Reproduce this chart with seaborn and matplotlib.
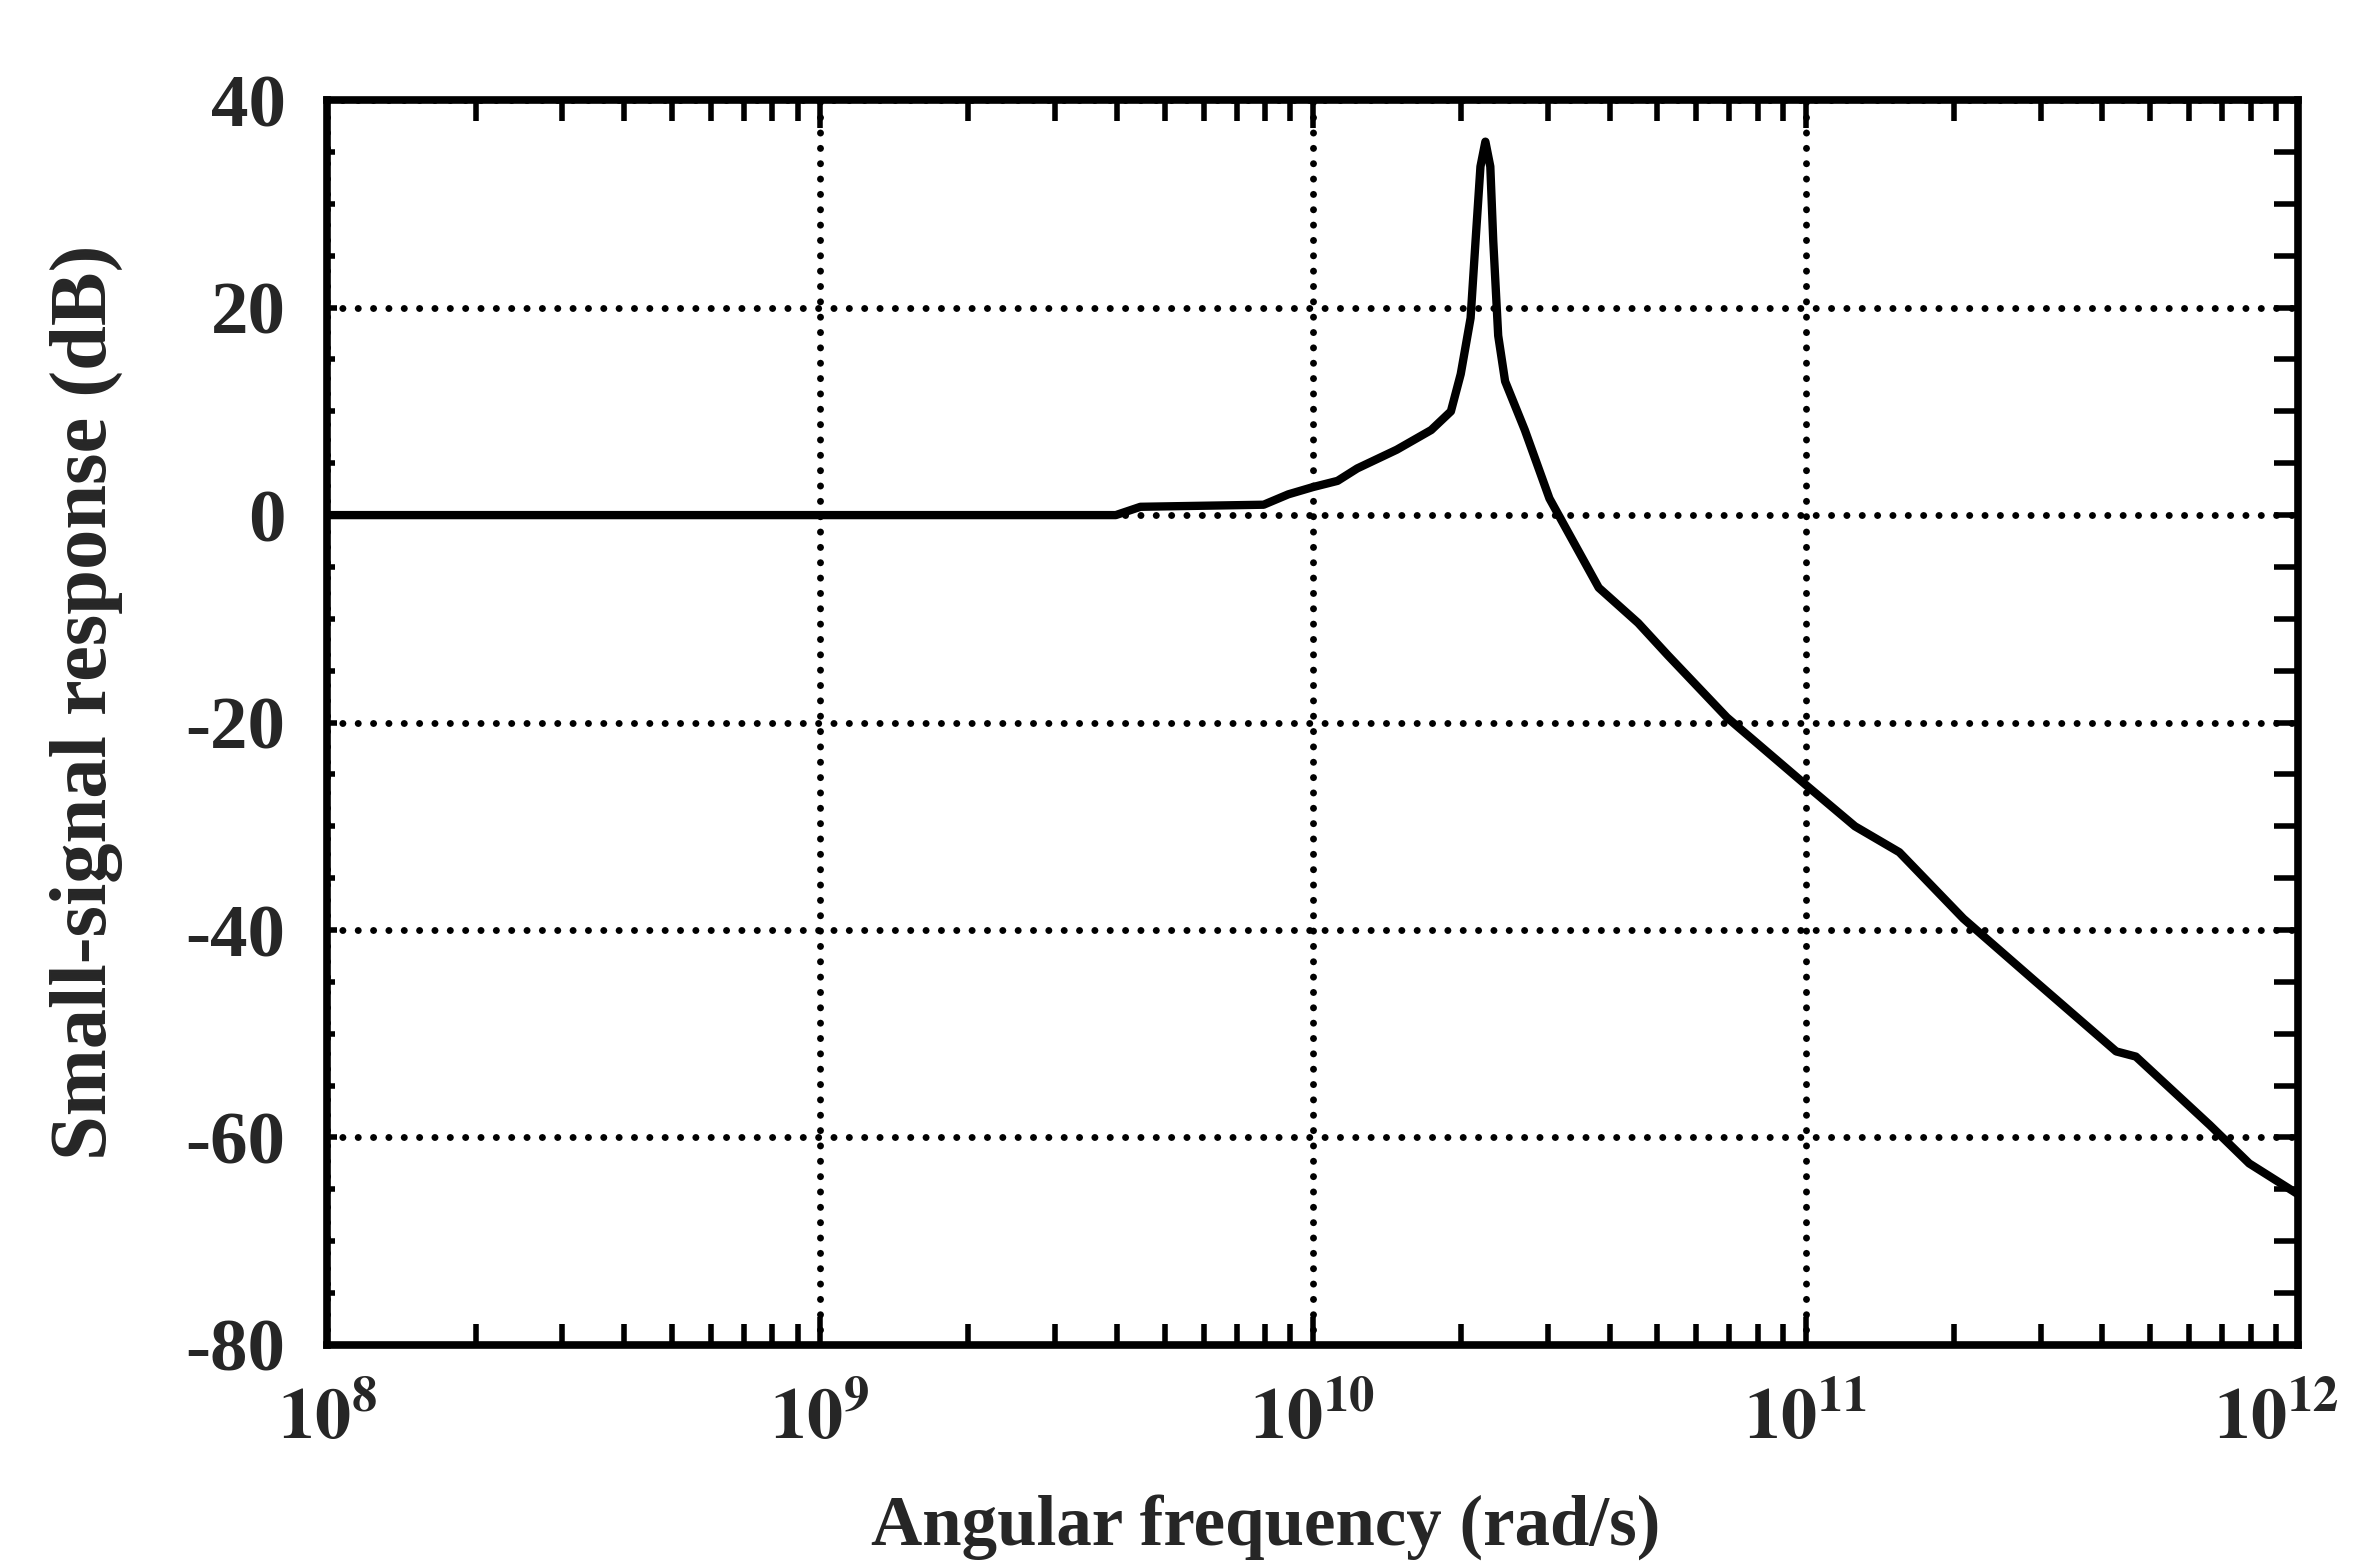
import numpy as np
import pandas as pd
import matplotlib
matplotlib.use("Agg")
import matplotlib.pyplot as plt
import matplotlib.transforms as mtransforms
import seaborn as sns
from matplotlib.ticker import FixedLocator, MultipleLocator, NullFormatter, LogLocator

# ---- data ----
freq_exponent = [8.0, 9.0, 9.6, 9.65, 9.9, 9.95, 10.0, 10.05, 10.09, 10.17, 10.24,
                 10.28, 10.30, 10.32, 10.33, 10.34, 10.35, 10.36, 10.366, 10.376,
                 10.39, 10.43, 10.48, 10.53, 10.58, 10.66, 10.72, 10.77, 10.84, 11.0,
                 11.1, 11.19, 11.32, 11.46, 11.63, 11.67, 11.82, 11.9, 11.97, 12.0]
response_db = [0.0, 0.0, 0.0, 0.8, 1.0, 2.0, 2.7, 3.3, 4.5, 6.3, 8.2,
               10.0, 13.6, 19.0, 26.4, 33.6, 36.0, 33.6, 26.4, 17.3,
               12.9, 8.2, 1.6, -2.7, -7.0, -10.4, -13.5, -16.0, -19.5, -26.0,
               -30.0, -32.5, -38.9, -44.7, -51.7, -52.2, -58.8, -62.5, -64.6, -65.5]

x_tick_exponents = [8, 9, 10, 11, 12]
x_tick_labels = [r"$10^{8}$", r"$10^{9}$", r"$10^{10}$", r"$10^{11}$", r"$10^{12}$"]
y_ticks = [-80, -60, -40, -20, 0, 20, 40]
y_tick_labels = ["-80", "-60", "-40", "-20", "0", "20", "40"]
x_label = "Angular frequency (rad/s)"
y_label = "Small-signal response (dB)"

df = pd.DataFrame({"omega": 10.0 ** np.array(freq_exponent), "db": response_db})

sns.set_style("white")
plt.rcParams["font.family"] = ["Liberation Serif", "DejaVu Serif"]
plt.rcParams["font.weight"] = "bold"
plt.rcParams["mathtext.fontset"] = "stix"
plt.rcParams["mathtext.default"] = "bf"
plt.rcParams["axes.unicode_minus"] = False

fig = plt.figure(figsize=(23.55, 15.65), dpi=100)
fig.patch.set_facecolor("white")
ax = fig.add_axes([0.139, 0.1406, 0.837, 0.7954])
ax.set_xscale("log")

sns.lineplot(data=df, x="omega", y="db", ax=ax, color="black", linewidth=6,
             solid_joinstyle="round", solid_capstyle="round")

ax.set_xlim(1e8, 1e12)
ax.set_ylim(-80, 40)

ax.xaxis.set_major_locator(FixedLocator([10.0 ** e for e in x_tick_exponents]))
ax.set_xticklabels(x_tick_labels)
ax.xaxis.set_minor_locator(LogLocator(base=10, subs=np.arange(2, 10), numticks=50))
ax.xaxis.set_minor_formatter(NullFormatter())
ax.set_yticks(y_ticks)
ax.set_yticklabels(y_tick_labels)
ax.yaxis.set_minor_locator(MultipleLocator(5))

ax.grid(True, which="major", color="black", linestyle=(0, (0.01, 2.2)),
        linewidth=5.0, dash_capstyle="round")

for s in ax.spines.values():
    s.set_linewidth(5.5)
    s.set_color("black")

ax.tick_params(axis="x", which="both", direction="in", top=True, bottom=True,
               width=4, color="black")
ax.tick_params(axis="x", which="major", length=20, pad=30, labelsize=52)
ax.tick_params(axis="x", which="minor", length=15)
ax.tick_params(axis="y", which="both", direction="in", left=True, right=False,
               width=4, color="black")
ax.tick_params(axis="y", which="major", length=7, pad=30, labelsize=54)
ax.tick_params(axis="y", which="minor", length=6)

# nudge the last x label so it stays inside the figure
last = ax.get_xticklabels()[-1]
last.set_transform(last.get_transform() +
                   mtransforms.ScaledTranslation(-22 / 100, 0, fig.dpi_scale_trans))

# right-side longer ticks
ax2 = ax.twinx()
ax2.set_ylim(-80, 40)
ax2.set_yticks(y_ticks)
ax2.yaxis.set_minor_locator(MultipleLocator(5))
ax2.set_yticklabels([])
ax2.tick_params(axis="y", which="both", direction="in", length=17, width=4, color="black")
for s in ax2.spines.values():
    s.set_visible(False)

ax.set_xlabel(x_label, fontsize=51, fontweight="bold", va="center")
ax.xaxis.set_label_coords(0.476, -0.146)
ax.set_ylabel(y_label, fontsize=58, fontweight="bold", va="center")
ax.yaxis.set_label_coords(-0.122, 0.516)

fig.savefig("out.png", dpi=100, facecolor="white")
